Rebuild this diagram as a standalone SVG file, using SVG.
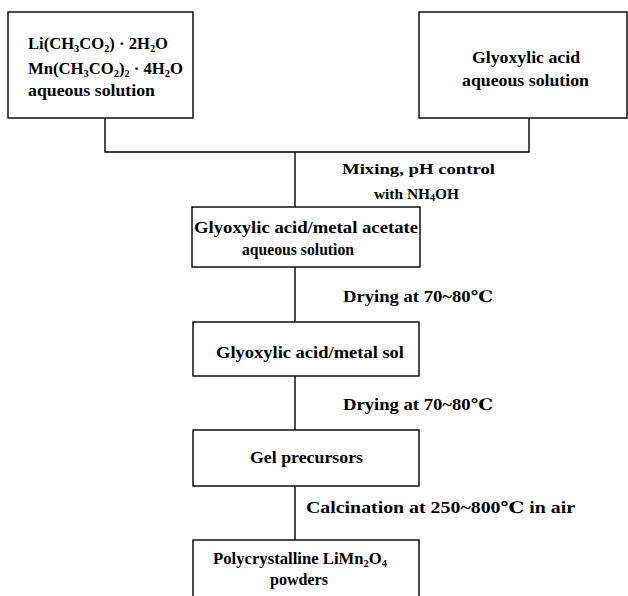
<svg xmlns="http://www.w3.org/2000/svg" width="628" height="596" viewBox="0 0 628 596">
<style>
.box{fill:#fff;stroke:#000;stroke-width:1.4}
.ln{fill:none;stroke:#000;stroke-width:1.4}
text{font-family:"Liberation Serif","DejaVu Serif",serif;font-weight:bold;font-size:16px;fill:#000}
.sm{font-size:15px}
.sub{font-size:10px}
</style>
<rect width="628" height="596" fill="#fff"/>
<g id="connectors">
<polyline class="ln" points="105,118 105,152 529,152 529,118"/>
<line class="ln" x1="295" y1="152" x2="295" y2="207"/>
<line class="ln" x1="295" y1="267" x2="295" y2="322"/>
<line class="ln" x1="295" y1="376" x2="295" y2="430"/>
<line class="ln" x1="295" y1="486" x2="295" y2="540"/>
<text class="sm" x="342" y="174" textLength="153" lengthAdjust="spacingAndGlyphs">Mixing, pH control</text>
<text class="sm" x="374" y="199" textLength="85" lengthAdjust="spacingAndGlyphs">with NH<tspan class="sub" dy="2">4</tspan><tspan dy="-2">OH</tspan></text>
<text x="343" y="302" textLength="150" lengthAdjust="spacingAndGlyphs">Drying at 70~80℃</text>
<text x="343" y="410" textLength="150" lengthAdjust="spacingAndGlyphs">Drying at 70~80℃</text>
<text x="306" y="513" textLength="269" lengthAdjust="spacingAndGlyphs">Calcination at 250~800℃ in air</text>
</g>
<g id="n1">
<rect class="box" x="8" y="12" width="185" height="106"/>
<text x="28" y="49" textLength="140" lengthAdjust="spacingAndGlyphs">Li(CH<tspan class="sub" dy="3">3</tspan><tspan dy="-3">CO</tspan><tspan class="sub" dy="3">2</tspan><tspan dy="-3">) · 2H</tspan><tspan class="sub" dy="3">2</tspan><tspan dy="-3">O</tspan></text>
<text x="28" y="74" textLength="155" lengthAdjust="spacingAndGlyphs">Mn(CH<tspan class="sub" dy="3">3</tspan><tspan dy="-3">CO</tspan><tspan class="sub" dy="3">2</tspan><tspan dy="-3">)</tspan><tspan class="sub" dy="3">2</tspan><tspan dy="-3"> · 4H</tspan><tspan class="sub" dy="3">2</tspan><tspan dy="-3">O</tspan></text>
<text x="28" y="96" textLength="127" lengthAdjust="spacingAndGlyphs">aqueous solution</text>
</g>
<g id="n2">
<rect class="box" x="419" y="12" width="208" height="106"/>
<text x="472" y="63" textLength="108" lengthAdjust="spacingAndGlyphs">Glyoxylic acid</text>
<text x="462" y="86" textLength="127" lengthAdjust="spacingAndGlyphs">aqueous solution</text>
</g>
<g id="n3">
<rect class="box" x="192" y="207" width="228" height="60"/>
<text x="194" y="233" textLength="224" lengthAdjust="spacingAndGlyphs">Glyoxylic acid/metal acetate</text>
<text x="242" y="255" textLength="112" lengthAdjust="spacingAndGlyphs">aqueous solution</text>
</g>
<g id="n4">
<rect class="box" x="193" y="322" width="226" height="54"/>
<text x="216" y="358" textLength="188" lengthAdjust="spacingAndGlyphs">Glyoxylic acid/metal sol</text>
</g>
<g id="n5">
<rect class="box" x="193" y="430" width="226" height="56"/>
<text x="250" y="463" textLength="113" lengthAdjust="spacingAndGlyphs">Gel precursors</text>
</g>
<g id="n6">
<rect class="box" x="193" y="540" width="226" height="70"/>
<text x="213" y="564" textLength="174" lengthAdjust="spacingAndGlyphs">Polycrystalline LiMn<tspan class="sub" dy="3">2</tspan><tspan dy="-3">O</tspan><tspan class="sub" dy="3">4</tspan></text>
<text x="270" y="585" textLength="58" lengthAdjust="spacingAndGlyphs">powders</text>
</g>
</svg>
